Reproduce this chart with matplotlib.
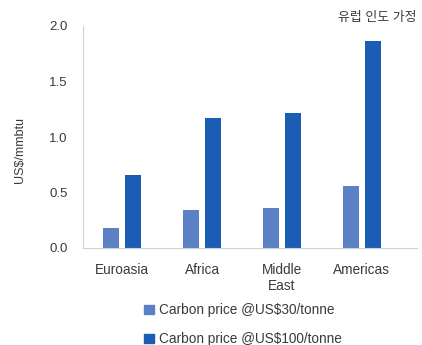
import matplotlib
matplotlib.use("Agg")
import matplotlib.pyplot as plt
import numpy as np
from matplotlib.patches import Patch

plt.rcParams['font.family'] = ['Liberation Sans', 'Noto Sans CJK KR', 'DejaVu Sans']

regions = ["Euroasia", "Africa", "Middle\nEast", "Americas"]
price_30 = [0.18, 0.345, 0.36, 0.555]
price_100 = [0.66, 1.17, 1.22, 1.865]
series_labels = ["Carbon price @US$30/tonne", "Carbon price @US$100/tonne"]
y_ticks = [0.0, 0.5, 1.0, 1.5, 2.0]
y_tick_labels = ["0.0", "0.5", "1.0", "1.5", "2.0"]
note = "유럽 인도 가정"

light_blue = "#5b80c4"
dark_blue = "#1b5db5"
text_col = "#3a3a3a"

W, H = 422, 345
fig = plt.figure(figsize=(W / 100, H / 100), dpi=100)
ax = fig.add_axes([83 / W, (H - 248) / H, (417 - 83) / W, (248 - 26) / H])

x = np.arange(len(regions))
bw = 0.2
off = 0.135
ax.bar(x - off, price_30, width=bw, color=light_blue)
ax.bar(x + off, price_100, width=bw, color=dark_blue)

ax.set_xlim(-0.49, 3.69)
ax.set_ylim(0, 2.0)
ax.set_yticks(y_ticks)
ax.set_yticklabels(y_tick_labels, fontsize=9.5, color=text_col)
ax.set_xticks(x)
ax.set_xticklabels(regions, fontsize=9.8, color=text_col, linespacing=1.15)
ax.tick_params(axis='both', length=0)
ax.tick_params(axis='y', pad=11)
ax.tick_params(axis='x', pad=11)

for s in ["top", "right"]:
    ax.spines[s].set_visible(False)
ax.spines["left"].set_color("#d0d0d0")
ax.spines["bottom"].set_color("#d0d0d0")

ax.set_ylabel("US$/mmbtu", fontsize=9, color=text_col)
ax.yaxis.set_label_coords(-0.17, 0.44)

fig.text(417 / W, 1 - 18 / H, note, ha='right', va='center', fontsize=9.3,
         color=text_col)

handles = [Patch(color=light_blue), Patch(color=dark_blue)]
fig.legend(handles, series_labels, loc='upper left',
           bbox_to_anchor=(132 / W, 1 - 291 / H), frameon=False,
           fontsize=9.8, labelcolor=text_col, handlelength=0.7,
           handleheight=0.7, handletextpad=0.4, labelspacing=1.1)

fig.savefig("out.png", dpi=100)
